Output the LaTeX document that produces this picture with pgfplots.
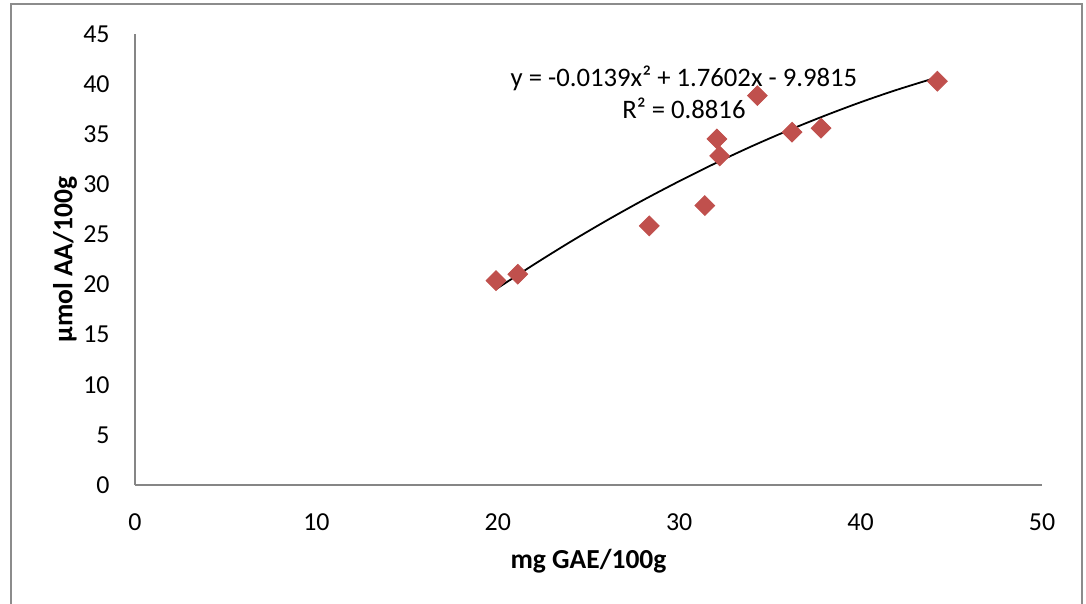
\documentclass[border=0pt]{standalone}
\usepackage{fontspec}
\setmainfont{Carlito}
\usepackage{pgfplots}
\pgfplotsset{compat=1.18}
\definecolor{mk}{HTML}{C0504D}
\definecolor{ax}{HTML}{868686}
\definecolor{fr}{HTML}{8C8C8C}
\begin{document}
\begin{tikzpicture}
\begin{scope}[x=0.5bp,y=0.5bp]
\path[use as bounding box] (0,0) rectangle (1086,604);
\draw[fr, line width=1.2bp] (11,-5) -- (11,600) -- (1082,600) -- (1082,-5);
\end{scope}
\begin{axis}[
  at={(67.5bp,59.5bp)}, anchor=south west,
  scale only axis, width=453.5bp, height=225.5bp,
  xmin=0, xmax=50, ymin=0, ymax=45,
  xtick={0,10,...,50}, ytick={0,5,...,45},
  axis x line*=bottom, axis y line*=left,
  axis line style={ax, line width=1bp},
  major tick length=0pt,
  /pgf/number format/assume math mode=true,
  tick label style={font=\fontsize{13}{15}\selectfont, inner sep=0pt},
  yticklabel style={anchor=east, xshift=-12.5bp},
  xticklabel style={anchor=north, yshift=-14bp},
  xlabel={mg GAE/100g}, ylabel={µmol AA/100g},
  label style={font=\fontsize{13.8}{16}\selectfont\bfseries},
  xlabel style={at={(axis description cs:0.5,0)}, anchor=center, yshift=-38bp},
  ylabel style={at={(axis description cs:0,0.5)}, anchor=center, yshift=35bp},
  clip=false,
]
\addplot[black, line width=0.9bp, smooth] coordinates {
(19.90,19.54) (22,22.01) (24,24.26) (26,26.39) (28,28.41) (30,30.31)
(32,32.11) (34,33.80) (36,35.37) (38,36.83) (40,38.19) (42,39.43) (44.23,40.68)};
\addplot[only marks, mark=square*, mark size=3.5bp, mark options={rotate=45, fill=mk, draw=mk}] coordinates {
(19.90,20.39) (21.10,21.03) (28.35,25.85) (31.41,27.88) (32.08,34.53)
(32.23,32.83) (34.31,38.85) (36.22,35.20) (37.82,35.60) (44.23,40.29)};
\node[font=\fontsize{13.4}{15}\selectfont, inner sep=0pt] at (axis cs:30.26,40.62) {y = -0.0139x² + 1.7602x - 9.9815};
\node[font=\fontsize{13.4}{15}\selectfont, inner sep=0pt] at (axis cs:30.26,37.62) {R² = 0.8816};
\end{axis}
\end{tikzpicture}
\end{document}
